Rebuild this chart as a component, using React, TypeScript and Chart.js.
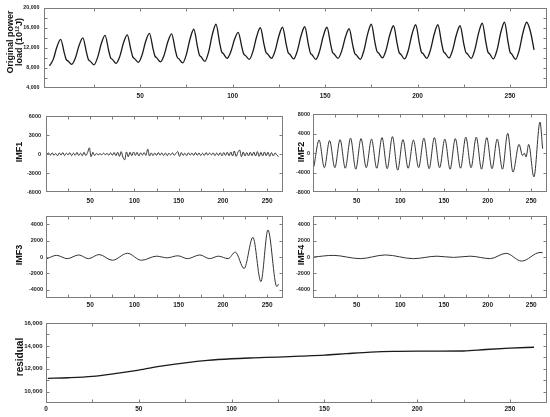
import React, { useEffect, useRef } from 'react';
import { Chart, registerables } from 'chart.js';

Chart.register(...registerables);

const FONT = "'Liberation Sans', Arial, Helvetica, sans-serif";

// ---------------- data ----------------
// Original power load (10^12 J), knots
const loadX = [
  1, 3, 5, 7, 9, 10, 11, 13, 15, 17, 19, 21, 22, 23, 25, 27, 29, 31, 33, 34, 35,
  37, 39, 41, 43, 45, 46, 47, 49, 51, 53, 55, 57, 58, 59, 61, 63, 65, 67, 69, 70, 71,
  73, 75, 77, 79, 81, 82, 83, 85, 87, 89, 91, 93, 94, 95, 97, 99, 101, 103, 105, 106, 107,
  109, 111, 113, 115, 117, 118, 119, 121, 123, 125, 127, 129, 130, 131, 133, 135, 137, 139, 141, 142, 143,
  145, 147, 149, 151, 153, 154, 155, 157, 159, 161, 163, 165, 166, 167, 169, 171, 173, 175, 177, 178, 179,
  181, 183, 185, 187, 189, 190, 191, 193, 195, 197, 199, 201, 202, 203, 205, 207, 209, 211, 213, 214, 215,
  217, 219, 221, 223, 225, 226, 227, 229, 231, 233, 235, 237, 238, 239, 241, 243, 245, 247, 249, 250, 251,
  253, 255, 257, 259, 261, 263,
];
const loadY = [
  8400, 9700, 12200, 13700, 10950, 9700, 9400,
  8700, 10000, 12500, 14000, 11030, 9680, 9350,
  8600, 10100, 12850, 14500, 11420, 10020, 9700,
  8900, 10300, 13000, 14600, 11600, 10200, 9850,
  9100, 10550, 13300, 14900, 11750, 10350, 10000,
  9200, 10600, 13250, 14800, 11600, 10150, 9800,
  9000, 10700, 13800, 15700, 12200, 10580, 10200,
  9300, 11150, 14600, 16700, 12960, 11260, 10850,
  9900, 11200, 13650, 15100, 12130, 10780, 10450,
  9700, 11300, 14250, 16000, 12650, 11120, 10750,
  9900, 11450, 14350, 16100, 12650, 11060, 10700,
  9800, 11400, 14400, 16200, 12600, 11000, 10600,
  9700, 11300, 14300, 16100, 12700, 11140, 10750,
  9900, 11400, 14150, 15800, 12450, 10920, 10550,
  9700, 11450, 14740, 16700, 13000, 11340, 10950,
  10000, 11600, 14600, 16400, 12770, 11120, 10700,
  9800, 11500, 14700, 16600, 12900, 11240, 10850,
  9900, 11600, 14700, 16600, 12970, 11320, 10900,
  10000, 11600, 14600, 16400, 12800, 11200, 10800,
  9900, 11650, 14940, 16900, 13000, 11220, 10800,
  9800, 11600, 15050, 17100, 13030, 11180, 10750,
  9700, 11550, 15000, 17100, 15300, 11600,
];

// IMF1, sampled every second month starting at month 1
const imf1Y = [
  0, 180, -150, 220, -200, 120, -260, 200, -150, 250,
  -220, 150, -120, 230, -250, 170, -180, 280, -200, 150,
  -260, 300, -220, 250, 1000, -400, 300, -200, 100, -120,
  80, -100, 150, -80, 120, -150, 200, -180, 260, -240,
  300, -350, 400, -500, -900, 350, -400, 300, -250, 350,
  -200, 280, -300, 200, -150, 250, -200, 800, -300, 200,
  -250, 180, -200, 250, -150, 200, -230, 180, -250, 150,
  -120, 200, -180, 150, 400, -350, 250, -200, 150, -250,
  220, -150, 180, -200, 250, -180, 200, -230, 150, -200,
  250, -150, 180, -120, 200, -250, 180, -200, 220, -280,
  250, -200, 300, -250, 350, -300, 500, -350, 300, 650,
  -400, 350, -300, 250, -280, 300, -250, 350, -300, 400,
  -350, 280, -300, 350, -250, 300, -350, 250, -300, 200,
  -150, -400,
];

// IMF2 extrema
const imf2X = [
  1, 7, 13, 19, 25, 31, 37, 43, 49, 55, 61, 67, 73, 79, 85, 91, 97, 103, 109, 115,
  121, 127, 133, 139, 145, 151, 157, 163, 169, 175, 181, 187, 193, 199, 205, 211, 217, 223,
  229, 236, 240, 242, 244, 247, 253, 260, 263,
];
const imf2Y = [
  -2800, 2700, -3000, 2600, -3000, 2800, -3100, 3100, -3300, 3000, -3000, 2900, -3100, 3200,
  -3200, 3400, -3500, 2800, -3100, 2700, -3000, 3100, -3200, 3200, -3000, 2900, -3300, 3000,
  -3100, 3300, -3000, 3300, -3300, 3200, -3200, 2900, -3300, 4100,
  -3900, 1800, -500, 0, -800, 1800, -4900, 6400, 900,
];

// IMF3 extrema
const imf3X = [1, 12, 24, 37, 48, 60, 75, 92, 108, 125, 137, 149, 160, 174, 185, 195, 206, 214, 224, 234, 243, 251, 261, 263];
const imf3Y = [-200, 200, -200, 250, -200, 300, -400, 450, -400, 100, -100, 150, -200, 250, -200, 100, -200, 600, -1400, 2400, -3000, 3300, -3600, -3300];

// IMF4 extrema
const imf4X = [1, 23, 54, 83, 115, 142, 161, 180, 203, 221, 239, 260, 263];
const imf4Y = [0, 200, -200, 250, -200, 100, -50, 100, -200, 450, -500, 550, 520];

// Residual trend
const resX = [1, 12, 25, 37, 50, 62, 75, 87, 100, 112, 125, 137, 150, 162, 175, 187, 200, 212, 225, 237, 250, 263];
const resY = [11160, 11210, 11330, 11570, 11880, 12220, 12520, 12730, 12870, 12950, 13020, 13100, 13190, 13320, 13450, 13520, 13540, 13540, 13550, 13680, 13800, 13880];

// tick labels
const xLabelsTop = [50, 100, 150, 200, 250];
const xLabelsImf = [50, 100, 150, 200, 250];
const xLabelsRes = [0, 50, 100, 150, 200, 250];
const xMarks = [25, 50, 75, 100, 125, 150, 175, 200, 225, 250];
const yLabelsLoad = [4000, 8000, 12000, 16000, 20000];
const yLabelsImf1 = [-6000, -3000, 0, 3000, 6000];
const yLabelsImf2 = [-8000, -4000, 0, 4000, 8000];
const yLabelsImf34 = [-4000, -2000, 0, 2000, 4000];
const yLabelsRes = [10000, 12000, 14000, 16000];

// ---------------- plugin: frame, inward ticks, side title ----------------
const framePlugin = {
  id: 'frame',
  afterDraw(chart: any, _args: any, opts: any) {
    const { ctx, chartArea: a } = chart;
    const xs = chart.scales.x;
    const ys = chart.scales.y;
    ctx.save();
    ctx.strokeStyle = '#7c7c7c';
    ctx.lineWidth = 1;
    const l = Math.round(a.left) + 0.5;
    const t = Math.round(a.top) + 0.5;
    const r = Math.round(a.right) - 0.5;
    const b = Math.round(a.bottom) - 0.5;
    ctx.strokeRect(l, t, r - l, b - t);
    ctx.beginPath();
    for (const v of opts.xMarks || []) {
      const px = Math.round(xs.getPixelForValue(v)) + 0.5;
      ctx.moveTo(px, b); ctx.lineTo(px, b - 3);
      ctx.moveTo(px, t); ctx.lineTo(px, t + 3);
    }
    for (const v of opts.yMarks || []) {
      const py = Math.round(ys.getPixelForValue(v)) + 0.5;
      ctx.moveTo(l, py); ctx.lineTo(l + 3, py);
      ctx.moveTo(r, py); ctx.lineTo(r - 3, py);
    }
    ctx.stroke();
    const tt = opts.title;
    if (tt) {
      ctx.fillStyle = '#111';
      ctx.font = `bold ${tt.size}px ${FONT}`;
      ctx.textAlign = 'center';
      ctx.textBaseline = 'middle';
      tt.lines.forEach((line: string, i: number) => {
        ctx.save();
        ctx.translate(tt.x + i * tt.lh, tt.y);
        ctx.rotate(-Math.PI / 2);
        ctx.fillText(line, 0, 0);
        ctx.restore();
      });
    }
    ctx.restore();
  },
};

const fmtComma = (v: any) => Number(v).toLocaleString('en-US');
const fmtPlain = (v: any) => String(v);

type Spec = {
  left: number; top: number; w: number; h: number;
  yw: number; xh: number; padTop: number; padRight: number;
  xs: number[]; ys: number[];
  xMin: number; xMax: number; yMin: number; yMax: number;
  xLabels: number[]; yLabels: number[]; yMarks: number[];
  yFmt: (v: any) => string;
  xPad: number; yPad: number; yFont: number;
  lineWidth: number; lineColor: string;
  title: { lines: string[]; x: number; y: number; lh: number; size: number };
};

function makeConfig(s: Spec): any {
  return {
    type: 'line',
    data: {
      datasets: [
        {
          data: s.xs.map((x, i) => ({ x, y: s.ys[i] })),
          borderColor: s.lineColor,
          borderWidth: s.lineWidth,
          pointRadius: 0,
          fill: false,
          cubicInterpolationMode: 'monotone',
        },
      ],
    },
    options: {
      animation: false,
      responsive: false,
      maintainAspectRatio: false,
      devicePixelRatio: 1,
      events: [],
      layout: { padding: { top: s.padTop, right: s.padRight, bottom: 0, left: 0 } },
      plugins: {
        legend: { display: false },
        tooltip: { enabled: false },
        frame: { xMarks, yMarks: s.yMarks, title: s.title },
      },
      scales: {
        x: {
          type: 'linear',
          position: 'bottom',
          min: s.xMin,
          max: s.xMax,
          grid: { display: false, drawTicks: false, tickLength: 0 },
          border: { display: false },
          ticks: {
            autoSkip: false,
            maxRotation: 0,
            padding: s.xPad,
            color: '#222',
            font: { family: FONT, size: 6.5, weight: 'bold' },
            callback: fmtPlain,
          },
          afterBuildTicks: (sc: any) => {
            sc.ticks = s.xLabels.map((v) => ({ value: v }));
          },
          afterFit: (sc: any) => {
            sc.height = s.xh;
          },
        },
        y: {
          type: 'linear',
          position: 'left',
          min: s.yMin,
          max: s.yMax,
          grid: { display: false, drawTicks: false, tickLength: 0 },
          border: { display: false },
          ticks: {
            autoSkip: false,
            padding: s.yPad,
            color: '#222',
            font: { family: FONT, size: s.yFont, weight: 'bold' },
            callback: s.yFmt,
          },
          afterBuildTicks: (sc: any) => {
            sc.ticks = s.yLabels.map((v) => ({ value: v }));
          },
          afterFit: (sc: any) => {
            sc.width = s.yw;
          },
        },
      },
    },
    plugins: [framePlugin],
  };
}

function Panel({ spec }: { spec: Spec }) {
  const ref = useRef<HTMLCanvasElement>(null);
  useEffect(() => {
    const chart = new Chart(ref.current as HTMLCanvasElement, makeConfig(spec));
    return () => chart.destroy();
  }, []);
  return (
    <canvas
      ref={ref}
      width={spec.w}
      height={spec.h}
      style={{ position: 'absolute', left: spec.left, top: spec.top, width: spec.w, height: spec.h }}
    />
  );
}

const imf1X = imf1Y.map((_, i) => 1 + 2 * i);

const specs: Spec[] = [
  {
    left: 0, top: 0, w: 550, h: 104, yw: 44, xh: 16, padTop: 6, padRight: 3,
    xs: loadX, ys: loadY, xMin: -2, xMax: 270, yMin: 4000, yMax: 20000,
    xLabels: xLabelsTop, yLabels: yLabelsLoad, yMarks: [6000, 8000, 10000, 12000, 14000, 16000, 18000],
    yFmt: fmtComma, xPad: 4, yPad: 4.5, yFont: 5.3, lineWidth: 1.3, lineColor: '#1a1a1a',
    title: { lines: ['Original power', 'load (10¹²J)'], x: 10.5, y: 42, lh: 9.5, size: 9 },
  },
  {
    left: 0, top: 108, w: 284, h: 98, yw: 46, xh: 14, padTop: 6, padRight: 1,
    xs: imf1X, ys: imf1Y, xMin: 0, xMax: 268, yMin: -6000, yMax: 6000,
    xLabels: xLabelsImf, yLabels: yLabelsImf1, yMarks: [-3000, 0, 3000],
    yFmt: fmtPlain, xPad: 5, yPad: 5, yFont: 5.5, lineWidth: 1, lineColor: '#333',
    title: { lines: ['IMF1'], x: 20, y: 44, lh: 10, size: 9 },
  },
  {
    left: 285, top: 108, w: 265, h: 98, yw: 28, xh: 14, padTop: 6, padRight: 3,
    xs: imf2X, ys: imf2Y, xMin: 0, xMax: 268, yMin: -8000, yMax: 8000,
    xLabels: xLabelsImf, yLabels: yLabelsImf2, yMarks: [-4000, 0, 4000],
    yFmt: fmtPlain, xPad: 5, yPad: 3, yFont: 5.5, lineWidth: 1, lineColor: '#333',
    title: { lines: ['IMF2'], x: 16.7, y: 44, lh: 10, size: 9 },
  },
  {
    left: 0, top: 209, w: 284, h: 102, yw: 46, xh: 13, padTop: 7, padRight: 1,
    xs: imf3X, ys: imf3Y, xMin: 0, xMax: 268, yMin: -5000, yMax: 5000,
    xLabels: xLabelsImf, yLabels: yLabelsImf34, yMarks: [-4000, -2000, 0, 2000, 4000],
    yFmt: fmtPlain, xPad: 3, yPad: 3, yFont: 5.5, lineWidth: 1, lineColor: '#333',
    title: { lines: ['IMF3'], x: 20, y: 46, lh: 10, size: 9 },
  },
  {
    left: 285, top: 209, w: 265, h: 102, yw: 28, xh: 13, padTop: 7, padRight: 3,
    xs: imf4X, ys: imf4Y, xMin: 0, xMax: 268, yMin: -5000, yMax: 5000,
    xLabels: xLabelsImf, yLabels: yLabelsImf34, yMarks: [-4000, -2000, 0, 2000, 4000],
    yFmt: fmtPlain, xPad: 3, yPad: 3, yFont: 5.5, lineWidth: 1, lineColor: '#333',
    title: { lines: ['IMF4'], x: 16.7, y: 46, lh: 10, size: 9 },
  },
  {
    left: 0, top: 313, w: 550, h: 104, yw: 46, xh: 14, padTop: 10, padRight: 3,
    xs: resX, ys: resY, xMin: 0, xMax: 270, yMin: 9000, yMax: 16000,
    xLabels: xLabelsRes, yLabels: yLabelsRes, yMarks: [10000, 11000, 12000, 13000, 14000, 15000],
    yFmt: fmtComma, xPad: 2.5, yPad: 3.5, yFont: 6, lineWidth: 1.3, lineColor: '#1a1a1a',
    title: { lines: ['residual'], x: 20.3, y: 44, lh: 12, size: 10 },
  },
];

export default function App() {
  return (
    <div style={{ position: 'absolute', left: 0, top: 0, width: 550, height: 417, background: '#fff', overflow: 'hidden' }}>
      {specs.map((s, i) => (
        <Panel key={i} spec={s} />
      ))}
    </div>
  );
}
